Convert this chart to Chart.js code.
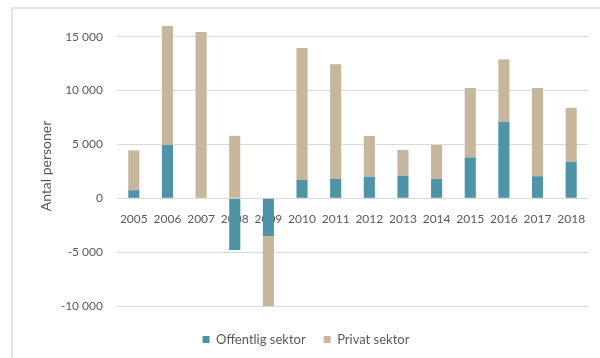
<!DOCTYPE html>
<html>
<head>
<meta charset="utf-8">
<script src="https://cdn.jsdelivr.net/npm/chart.js@4/dist/chart.umd.min.js"></script>
<style>
    html, body { margin: 0; padding: 0; background: #fff; }
    #wrap { position: relative; width: 600px; height: 358px; overflow: hidden; }
    #ramme { position: absolute; left: 11px; top: 7px; right: -5px; bottom: -5px; border-top: 2px solid #e4e4e4; border-left: 2px solid #e4e4e4; }
    #grafico { position: absolute; left: 0; top: 0; }
</style>
</head>
<body>
<div id="wrap">
    <div id="ramme"></div>
    <canvas id="grafico" width="600" height="358"></canvas>
</div>
<script>
// Sysselsettingsendring per år, fordelt på sektor
const aar = ['2005', '2006', '2007', '2008', '2009', '2010', '2011', '2012', '2013', '2014', '2015', '2016', '2017', '2018'];
const offentlig = [750, 4950, 0, -4800, -3500, 1700, 1800, 2000, 2100, 1800, 3800, 7100, 2050, 3400];
const privat = [3700, 11050, 15450, 5800, -6600, 12250, 10650, 3800, 2400, 3150, 6450, 5800, 8200, 5000];
const yTicks = [-10000, -5000, 0, 5000, 10000, 15000];

const gra = '#595959';
const fonte = 'Lato';

function formaterTall(v) {
    const s = String(Math.abs(v)).replace(/\B(?=(\d{3})+(?!\d))/g, ' ');
    return v < 0 ? '-' + s : s;
}

function tegnGrafico() {
    const ctx = document.getElementById('grafico').getContext('2d');

    window.chartSektor = new Chart(ctx, {
        type: 'bar',
        data: {
            labels: aar,
            datasets: [
                {
                    label: 'Offentlig sektor',
                    data: offentlig,
                    backgroundColor: '#4f93a9',
                    barPercentage: 0.33,
                    categoryPercentage: 1
                },
                {
                    label: 'Privat sektor',
                    data: privat,
                    backgroundColor: '#c5b69c',
                    barPercentage: 0.33,
                    categoryPercentage: 1
                }
            ]
        },
        options: {
            responsive: false,
            animation: false,
            layout: {
                padding: { left: 24, right: 12, top: 26, bottom: 2 }
            },
            scales: {
                x: {
                    stacked: true,
                    position: { y: 0 },
                    grid: { display: false, drawTicks: false },
                    border: { display: false },
                    ticks: {
                        color: gra,
                        font: { family: fonte, size: 12 },
                        padding: 14,
                        maxRotation: 0,
                        autoSkip: false
                    }
                },
                y: {
                    stacked: true,
                    min: -10000,
                    max: 16000,
                    afterBuildTicks: (scale) => {
                        scale.ticks = yTicks.map(v => ({ value: v }));
                    },
                    afterFit: (scale) => { scale.width = 93; },
                    grid: { color: '#d9d9d9', drawTicks: false },
                    border: { display: false },
                    ticks: {
                        color: gra,
                        font: { family: fonte, size: 12 },
                        padding: 14,
                        callback: (v) => formaterTall(v)
                    },
                    title: {
                        display: true,
                        text: 'Antal personer',
                        color: gra,
                        font: { family: fonte, size: 14 },
                        padding: { top: 14, bottom: 0 }
                    }
                }
            },
            plugins: {
                legend: {
                    display: true,
                    position: 'bottom',
                    // tom tittel gir litt luft mellom plottet og forklaringen
                    title: {
                        display: true,
                        text: '',
                        font: { size: 9, lineHeight: 1 },
                        padding: 0
                    },
                    labels: {
                        color: gra,
                        font: { family: fonte, size: 13 },
                        boxWidth: 7,
                        boxHeight: 7,
                        padding: 18
                    }
                },
                tooltip: { enabled: false }
            }
        }
    });
}

tegnGrafico();
</script>
</body>
</html>
